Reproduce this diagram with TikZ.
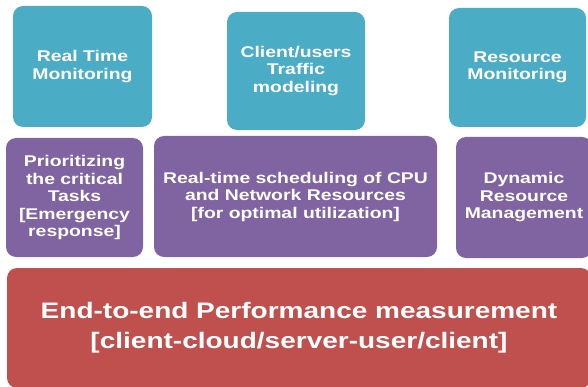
\documentclass[tikz,border=0pt]{standalone}
\usepackage{fontspec}
\setmainfont{Liberation Sans}[FakeStretch=1.25]
\definecolor{tealc}{HTML}{4BACC6}
\definecolor{purplec}{HTML}{8064A2}
\definecolor{redc}{HTML}{C0504D}
\tikzset{
  box/.style={rectangle, rounded corners=10pt, inner sep=0pt, text=white, align=center,
    font=\fontsize{15.5}{17.5}\selectfont\bfseries},
  tealbox/.style={box, fill=tealc},
  purplebox/.style={box, fill=purplec},
  redbox/.style={box, fill=redc, font=\fontsize{22.4}{30}\selectfont\bfseries}
}
\begin{document}
\begin{tikzpicture}[x=1pt,y=-1pt]
\useasboundingbox (0,0) rectangle (588,387);
\clip (0,0) rectangle (588,387);
\node[tealbox, minimum width=139pt, minimum height=121pt] (t1) at (82.5,66.5) {Real Time\\Monitoring};
\node[tealbox, minimum width=138pt, minimum height=118pt] (t2) at (296,71) {Client/users\\Traffic\\modeling};
\node[tealbox, minimum width=137pt, minimum height=119pt] (t3) at (517.5,67.5) {Resource\\Monitoring};
\node[purplebox, minimum width=137pt, minimum height=119pt] (p1) at (74.5,197.5) {Prioritizing\\the critical\\Tasks\\{[}Emergency\\response{]}};
\node[purplebox, minimum width=283pt, minimum height=121pt] (p2) at (295.5,196.5) {Real-time scheduling of CPU\\and Network Resources\\{[}for optimal utilization{]}};
\node[purplebox, minimum width=136pt, minimum height=121pt] (p3) at (524,197.5) {Dynamic\\Resource\\Management};
\node[redbox, minimum width=584pt, minimum height=120pt] (r) at (299,328) {End-to-end Performance measurement\\{[}client-cloud/server-user/client{]}};
\end{tikzpicture}
\end{document}
